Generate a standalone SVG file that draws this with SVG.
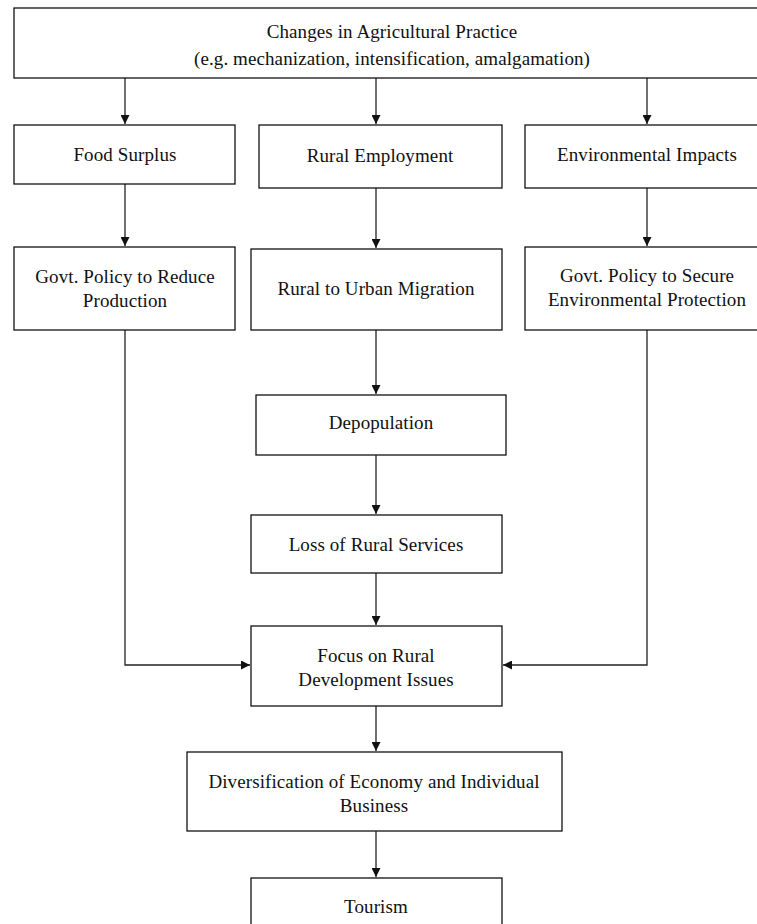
<svg xmlns="http://www.w3.org/2000/svg" width="757" height="924" viewBox="0 0 757 924">
<style>
.box{fill:#fff;stroke:#111;stroke-width:1.3}
.t{font-family:"Liberation Serif","Times New Roman",serif;font-size:19px;fill:#111;text-anchor:middle;letter-spacing:0.1px}
.c{fill:none;stroke:#222;stroke-width:1.3}
</style>
<defs>
<marker id="ah" viewBox="0 0 10 10" refX="10" refY="5" markerWidth="9" markerHeight="9" markerUnits="userSpaceOnUse" orient="auto">
<path d="M0,0 L10,5 L0,10 Z" fill="#111"/>
</marker>
</defs>
<rect width="757" height="924" fill="#fff"/>
<g id="connectors">
<path class="c" d="M125,78 V124" marker-end="url(#ah)"/>
<path class="c" d="M376,78 V124" marker-end="url(#ah)"/>
<path class="c" d="M647,78 V124" marker-end="url(#ah)"/>
<path class="c" d="M125,184 V246" marker-end="url(#ah)"/>
<path class="c" d="M376,188 V248" marker-end="url(#ah)"/>
<path class="c" d="M647,188 V246" marker-end="url(#ah)"/>
<path class="c" d="M376,330 V394" marker-end="url(#ah)"/>
<path class="c" d="M376,455 V514" marker-end="url(#ah)"/>
<path class="c" d="M376,573 V625" marker-end="url(#ah)"/>
<path class="c" d="M125,330 V665 H250" marker-end="url(#ah)"/>
<path class="c" d="M647,330 V665 H503" marker-end="url(#ah)"/>
<path class="c" d="M376,706 V751" marker-end="url(#ah)"/>
<path class="c" d="M376,831 V877" marker-end="url(#ah)"/>
</g>
<g id="n-changes"><rect class="box" x="14" y="8" width="756" height="70"/>
<text class="t" x="392" y="38">Changes in Agricultural Practice</text>
<text class="t" x="392" y="65">(e.g. mechanization, intensification, amalgamation)</text></g>
<g id="n-food"><rect class="box" x="14" y="125" width="221" height="59"/>
<text class="t" x="125" y="161">Food Surplus</text></g>
<g id="n-employment"><rect class="box" x="259" y="125" width="243" height="63"/>
<text class="t" x="380" y="162">Rural Employment</text></g>
<g id="n-env"><rect class="box" x="525" y="125" width="245" height="63"/>
<text class="t" x="647" y="161">Environmental Impacts</text></g>
<g id="n-reduce"><rect class="box" x="14" y="247" width="221" height="83"/>
<text class="t" x="125" y="283">Govt. Policy to Reduce</text>
<text class="t" x="125" y="307">Production</text></g>
<g id="n-migration"><rect class="box" x="251" y="249" width="251" height="81"/>
<text class="t" x="376" y="295">Rural to Urban Migration</text></g>
<g id="n-protect"><rect class="box" x="525" y="247" width="245" height="83"/>
<text class="t" x="647" y="282">Govt. Policy to Secure</text>
<text class="t" x="647" y="306">Environmental Protection</text></g>
<g id="n-depop"><rect class="box" x="256" y="395" width="250" height="60"/>
<text class="t" x="381" y="429">Depopulation</text></g>
<g id="n-loss"><rect class="box" x="251" y="515" width="251" height="58"/>
<text class="t" x="376" y="551">Loss of Rural Services</text></g>
<g id="n-focus"><rect class="box" x="251" y="626" width="251" height="80"/>
<text class="t" x="376" y="662">Focus on Rural</text>
<text class="t" x="376" y="686">Development Issues</text></g>
<g id="n-divers"><rect class="box" x="187" y="752" width="375" height="79"/>
<text class="t" x="374" y="788">Diversification of Economy and Individual</text>
<text class="t" x="374" y="812">Business</text></g>
<g id="n-tourism"><rect class="box" x="251" y="878" width="251" height="60"/>
<text class="t" x="376" y="913">Tourism</text></g>
</svg>
